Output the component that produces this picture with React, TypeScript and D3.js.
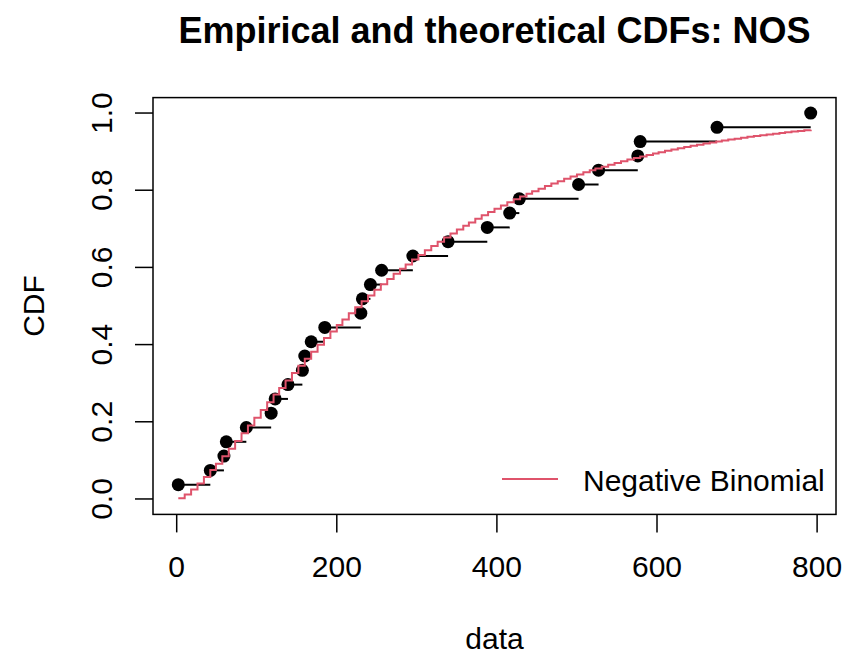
import React from "react";
import * as d3 from "d3";

// ---- data ----
const TITLE = "Empirical and theoretical CDFs: NOS";
const X_LABEL = "data";
const Y_LABEL = "CDF";
const LEGEND_LABEL = "Negative Binomial";

// observed values (sorted), n = 27
const dataValues = [
  2, 42, 59, 62, 87, 118, 123, 139, 157, 160, 168, 185, 230, 232, 242, 256,
  295, 339, 388, 416, 428, 502, 527, 576, 579, 675, 792,
];

const xTicks = [0, 200, 400, 600, 800];
const xTickLabels = ["0", "200", "400", "600", "800"];
const yTicks = [0, 0.2, 0.4, 0.6, 0.8, 1.0];
const yTickLabels = ["0.0", "0.2", "0.4", "0.6", "0.8", "1.0"];

// fitted negative binomial parameters
const NB_SIZE = 1.45;
const NB_MU = 288;
const N_GRID = 101;

const W = 842;
const H = 658;
const FONT = "'Liberation Sans', Arial, Helvetica, sans-serif";
const RED = "#DF536B";

function nbCdfTable(size: number, mu: number, kMax: number): number[] {
  const p = size / (size + mu);
  const q = 1 - p;
  let pk = Math.pow(p, size);
  let acc = pk;
  const out = [acc];
  for (let k = 0; k < kMax; k++) {
    pk = pk * ((k + size) / (k + 1)) * q;
    acc += pk;
    out.push(acc);
  }
  return out;
}

export default function App() {
  const n = dataValues.length;
  const xmin = d3.min(dataValues) as number;
  const xmax = d3.max(dataValues) as number;
  const xr = xmax - xmin;

  const box = { left: 153, right: 836, top: 97.6, bottom: 514.4 };

  const x = d3
    .scaleLinear()
    .domain([xmin - 0.04 * xr, xmax + 0.04 * xr])
    .range([box.left, box.right]);
  const y = d3
    .scaleLinear()
    .domain([-0.04, 1.04])
    .range([box.bottom, box.top]);

  const ecdf = dataValues.map((v, i) => ({ v, p: (i + 1) / n }));

  const table = nbCdfTable(NB_SIZE, NB_MU, Math.ceil(xmax) + 1);
  const grid = Array.from(
    new Set(
      d3.range(N_GRID).map((i) => Math.round(xmin + (i * xr) / (N_GRID - 1)))
    )
  );
  const theo = grid.map((g) => [g, table[g]] as [number, number]);
  const stepLine = d3
    .line<[number, number]>()
    .x((d) => x(d[0]))
    .y((d) => y(d[1]))
    .curve(d3.curveStepAfter);

  const tickLen = 18;

  return (
    <svg
      width={W}
      height={H}
      viewBox={`0 0 ${W} ${H}`}
      style={{ position: "absolute", left: 0, top: 0, display: "block", background: "#fff" }}
      fontFamily={FONT}
    >
      <rect x={0} y={0} width={W} height={H} fill="#fff" />

      {/* title */}
      <text
        x={(box.left + box.right) / 2}
        y={43}
        textAnchor="middle"
        fontSize={36}
        fontWeight="bold"
        fill="#000"
      >
        {TITLE}
      </text>

      {/* ecdf horizontal segments */}
      {ecdf.slice(0, n - 1).map((d, i) => (
        <line
          key={"s" + i}
          x1={x(d.v)}
          x2={x(ecdf[i + 1].v)}
          y1={y(d.p)}
          y2={y(d.p)}
          stroke="#000"
          strokeWidth={2}
        />
      ))}
      {/* ecdf points */}
      {ecdf.map((d, i) => (
        <circle key={"p" + i} cx={x(d.v)} cy={y(d.p)} r={6.5} fill="#000" />
      ))}

      {/* theoretical CDF */}
      <path d={stepLine(theo) || ""} fill="none" stroke={RED} strokeWidth={2} />

      {/* box */}
      <rect
        x={box.left}
        y={box.top}
        width={box.right - box.left}
        height={box.bottom - box.top}
        fill="none"
        stroke="#000"
        strokeWidth={1.5}
      />

      {/* x axis */}
      {xTicks.map((t, i) => (
        <g key={"xt" + i}>
          <line
            x1={x(t)}
            x2={x(t)}
            y1={box.bottom}
            y2={box.bottom + tickLen}
            stroke="#000"
            strokeWidth={1.5}
          />
          <text x={x(t)} y={577} textAnchor="middle" fontSize={30} fill="#000">
            {xTickLabels[i]}
          </text>
        </g>
      ))}
      <text
        x={(box.left + box.right) / 2}
        y={649}
        textAnchor="middle"
        fontSize={30}
        fill="#000"
      >
        {X_LABEL}
      </text>

      {/* y axis */}
      {yTicks.map((t, i) => (
        <g key={"yt" + i}>
          <line
            x1={box.left - tickLen}
            x2={box.left}
            y1={y(t)}
            y2={y(t)}
            stroke="#000"
            strokeWidth={1.5}
          />
          <text
            transform={`translate(111.5, ${y(t)}) rotate(-90)`}
            textAnchor="middle"
            fontSize={30}
            fill="#000"
          >
            {yTickLabels[i]}
          </text>
        </g>
      ))}
      <text
        transform={`translate(44, ${(box.top + box.bottom) / 2}) rotate(-90)`}
        textAnchor="middle"
        fontSize={30}
        fill="#000"
      >
        {Y_LABEL}
      </text>

      {/* legend */}
      <line x1={502} x2={558} y1={479} y2={479} stroke={RED} strokeWidth={2} />
      <text x={583} y={491} fontSize={30} fill="#000">
        {LEGEND_LABEL}
      </text>
    </svg>
  );
}
